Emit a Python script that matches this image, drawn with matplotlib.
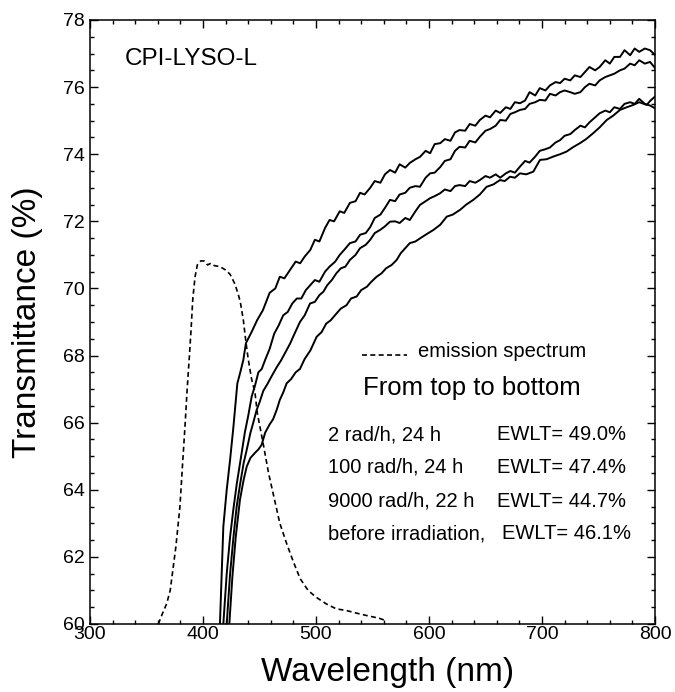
import matplotlib
matplotlib.use('Agg')
import matplotlib.pyplot as plt
from matplotlib.ticker import MultipleLocator

plt.rcParams['font.family'] = ['Liberation Sans', 'DejaVu Sans']

# transmittance curves (wavelength nm, transmittance %)
wl_2rad = [415, 418, 421, 424, 427, 430.4, 433, 435.7, 438, 443, 448, 453, 459, 464, 468, 472, 477,
           482, 486, 490, 495, 499, 503, 508, 512, 516, 521, 525, 530, 535, 539, 543, 548, 552, 557,
           561, 565.5, 570, 574, 579, 583, 588, 592, 597, 601, 605, 610, 614, 619, 623, 627, 632, 636,
           641, 645, 650, 654, 659, 663, 668, 672, 676, 680.5, 685, 689, 694, 698, 703, 707, 712, 716,
           720, 725, 729, 734, 738, 742, 747, 751, 756, 760, 764, 769, 773, 778, 782, 786, 791, 795.6, 800]
tr_2rad = [60, 62.9, 64.0, 64.9, 65.9, 67.17, 67.5, 67.87, 68.37, 68.7, 69.06, 69.35, 69.87, 70.0,
           70.35, 70.3, 70.55, 70.8, 70.75, 70.95, 71.15, 71.45, 71.4, 71.8, 72.04, 72.0, 72.3, 72.25,
           72.55, 72.6, 72.85, 72.8, 73.0, 73.2, 73.15, 73.4, 73.53, 73.45, 73.7, 73.6, 73.74, 73.85,
           73.92, 74.1, 74.03, 74.3, 74.33, 74.45, 74.4, 74.65, 74.72, 74.7, 74.9, 74.85, 75.02, 75.15,
           75.1, 75.3, 75.23, 75.4, 75.35, 75.55, 75.52, 75.6, 75.85, 75.75, 75.97, 75.9, 76.05, 76.15,
           76.12, 76.25, 76.2, 76.35, 76.3, 76.45, 76.6, 76.5, 76.6, 76.8, 76.7, 76.9, 76.9, 77.1, 76.95,
           77.15, 77.05, 77.15, 77.1, 76.96]

wl_100rad = [418, 421, 424, 426.8, 430, 434.2, 437, 440, 443.1, 446, 449, 452, 455, 459, 463, 467, 471,
             475, 479, 483, 487, 491, 495, 499, 503, 508, 512, 517, 521, 525, 530, 535, 539, 544, 548,
             552, 557, 561, 565.5, 570, 574, 579, 583, 588, 592, 597, 601, 605, 610, 614, 619, 623, 627,
             632, 636, 641, 645, 650, 654, 659, 663, 668, 672, 676, 680.5, 685, 689, 694, 698, 703, 707,
             712, 716, 720, 725, 729, 734, 738, 742, 747, 751, 756, 760, 764, 769, 773, 778, 782, 786,
             791, 795.6, 800]
tr_100rad = [60, 61.5, 62.6, 63.4, 64.2, 65.09, 65.7, 66.2, 66.78, 67.1, 67.5, 67.6, 67.87, 68.2, 68.65,
             68.9, 69.2, 69.3, 69.55, 69.7, 69.7, 69.95, 70.1, 70.25, 70.2, 70.5, 70.65, 70.8, 71.0,
             71.15, 71.35, 71.4, 71.6, 71.65, 71.83, 72.1, 72.2, 72.4, 72.64, 72.6, 72.8, 72.85, 73.0,
             73.05, 73.03, 73.3, 73.43, 73.45, 73.62, 73.8, 73.85, 74.1, 74.22, 74.2, 74.4, 74.35, 74.52,
             74.7, 74.75, 74.85, 75.02, 75.0, 75.2, 75.25, 75.32, 75.35, 75.5, 75.55, 75.62, 75.6, 75.8,
             75.75, 75.85, 75.9, 75.85, 75.8, 75.85, 76.0, 76.1, 76.05, 76.2, 76.3, 76.35, 76.4, 76.5,
             76.55, 76.7, 76.65, 76.8, 76.7, 76.75, 76.57]

wl_9000rad = [421, 424, 427, 429.8, 433, 436, 438.7, 442, 444.5, 447.5, 450, 453.4, 457, 461, 465.2, 469,
              473, 477, 481, 485.8, 490, 494.7, 499, 503, 506.5, 510, 514, 518, 522, 526, 530, 535, 539,
              544, 548, 552, 557, 561, 565.5, 570, 574, 579, 583, 588, 592, 597, 601, 605, 610, 614, 619,
              623, 627, 632, 636, 641, 645, 650, 654, 659, 663, 668, 672, 676, 680.5, 685, 689, 694, 698,
              703, 707, 712, 716, 720, 725, 729, 734, 738, 742, 747, 751, 756, 760, 764, 769, 773, 778,
              782, 786, 791, 795.6, 800]
tr_9000rad = [60, 61.5, 62.6, 63.5, 64.2, 64.8, 65.19, 65.7, 66.0, 66.38, 66.6, 66.95, 67.15, 67.4, 67.65,
              67.85, 68.1, 68.35, 68.65, 69.0, 69.2, 69.55, 69.6, 69.8, 69.9, 70.1, 70.25, 70.45, 70.6,
              70.65, 70.85, 71.0, 71.2, 71.3, 71.45, 71.65, 71.75, 71.85, 71.99, 72.0, 71.95, 72.1, 72.04,
              72.3, 72.49, 72.6, 72.69, 72.75, 72.84, 72.95, 72.9, 73.05, 73.08, 73.05, 73.2, 73.15, 73.23,
              73.35, 73.3, 73.4, 73.3, 73.43, 73.5, 73.45, 73.63, 73.8, 73.75, 73.93, 74.1, 74.15, 74.2,
              74.35, 74.42, 74.55, 74.6, 74.72, 74.85, 74.8, 74.95, 75.1, 75.22, 75.3, 75.25, 75.4, 75.35,
              75.5, 75.55, 75.5, 75.65, 75.5, 75.45, 75.37]

wl_before = [423.3, 426, 429, 432.7, 436, 438.7, 442, 446, 449, 451.9, 455, 459, 462, 465.2, 468, 471, 474,
             478, 482, 485.8, 490, 495, 500.6, 505, 509, 513, 518.3, 522, 527, 531, 536, 540, 545, 549,
             553.7, 558, 562, 567, 571.4, 575, 579, 583, 588, 592, 597, 603.8, 610, 615.7, 621, 627.4, 633,
             639.2, 645, 651, 657, 662.8, 667, 671.7, 676, 680.5, 686, 692.3, 698.2, 704, 710, 716, 721.8,
             727, 733.6, 739, 745.4, 751, 757.3, 763, 769, 775, 780.8, 786, 792.6, 796, 800]
tr_before = [60, 61.4, 62.6, 63.7, 64.3, 64.69, 64.95, 65.1, 65.2, 65.34, 65.7, 65.95, 66.1, 66.38, 66.68,
             66.9, 67.17, 67.3, 67.5, 67.6, 67.9, 68.15, 68.56, 68.7, 68.95, 69.05, 69.26, 69.4, 69.5, 69.7,
             69.76, 69.95, 70.05, 70.2, 70.35, 70.45, 70.6, 70.7, 70.85, 71.05, 71.2, 71.35, 71.4, 71.49,
             71.6, 71.74, 71.9, 72.14, 72.2, 72.34, 72.5, 72.64, 72.8, 73.03, 73.1, 73.23, 73.2, 73.33,
             73.3, 73.43, 73.4, 73.48, 73.83, 73.85, 73.93, 74.0, 74.08, 74.2, 74.33, 74.45, 74.63, 74.8,
             75.02, 75.15, 75.32, 75.4, 75.47, 75.55, 75.47, 75.6, 75.72]

# emission spectrum (arbitrary scale, drawn in the same frame)
wl_em = [360.5, 364, 367.8, 371, 376, 379.6, 382, 384.1, 386, 388, 389.5, 391, 393, 395, 398, 401, 404,
         407, 410, 415, 420, 424, 428, 431, 433, 435.7, 438, 440, 443, 446, 448, 453.4, 458, 463, 468,
         474, 480, 486, 493, 500, 509, 518, 527, 535, 545, 556, 560]
em = [60.0, 60.3, 60.6, 61.0, 62.3, 63.5, 64.8, 65.9, 67.0, 68.0, 68.8, 69.7, 70.35, 70.7, 70.82, 70.82,
      70.7, 70.75, 70.68, 70.65, 70.55, 70.42, 70.15, 69.85, 69.6, 69.06, 68.4, 67.9, 67.3, 66.9, 66.3,
      65.35, 64.5, 63.75, 63.0, 62.4, 61.85, 61.35, 61.0, 60.8, 60.6, 60.45, 60.4, 60.33, 60.25, 60.17, 60.12]

labels = ['2 rad/h, 24 h', '100 rad/h, 24 h', '9000 rad/h, 22 h', 'before irradiation,']
ewlt = ['EWLT= 49.0%', 'EWLT= 47.4%', 'EWLT= 44.7%', 'EWLT= 46.1%']

fig = plt.figure(figsize=(6.75, 6.92), dpi=100)
ax = fig.add_axes([0.1333, 0.0983, 0.8371, 0.8728])

for wl, tr in [(wl_2rad, tr_2rad), (wl_100rad, tr_100rad), (wl_9000rad, tr_9000rad), (wl_before, tr_before)]:
    ax.plot(wl, tr, color='black', lw=1.4)
ax.plot(wl_em, em, color='black', lw=1.2, dashes=(3, 2))

ax.set_xlim(300, 800)
ax.set_ylim(60, 78)
ax.xaxis.set_major_locator(MultipleLocator(100))
ax.xaxis.set_minor_locator(MultipleLocator(20))
ax.yaxis.set_major_locator(MultipleLocator(2))
ax.yaxis.set_minor_locator(MultipleLocator(0.5))
ax.tick_params(which='both', direction='in', top=True, right=True, width=1.0, labelsize=14)
ax.tick_params(which='major', length=6)
ax.tick_params(which='minor', length=3)
ax.tick_params(axis='x', pad=1.5)
ax.tick_params(axis='y', pad=4)
for s in ax.spines.values():
    s.set_linewidth(1.1)

ax.set_xlabel('Wavelength (nm)', fontsize=24)
ax.xaxis.set_label_coords(0.527, -0.055)
ax.xaxis.label.set_va('top')
ax.set_ylabel('Transmittance (%)', fontsize=24)
ax.yaxis.set_label_coords(-0.11, 0.5)
ax.yaxis.label.set_va('center')

ax.text(0.062, 0.9255, 'CPI-LYSO-L', transform=ax.transAxes, fontsize=17.5, va='baseline')

# legend for emission spectrum
ax.plot([0.481, 0.561], [0.445, 0.445], transform=ax.transAxes, color='black', lw=1.2, dashes=(3, 2))
ax.text(0.5805, 0.442, 'emission spectrum', transform=ax.transAxes, fontsize=14.5, va='baseline')
ax.text(0.483, 0.379, 'From top to bottom', transform=ax.transAxes, fontsize=18.5, va='baseline')

ys = [0.3046, 0.2500, 0.1945, 0.1399]
for i in range(4):
    ax.text(0.421, ys[i], labels[i], transform=ax.transAxes, fontsize=14.5, va='baseline')
    ax.text(0.729 if i == 3 else 0.720, ys[i], ewlt[i], transform=ax.transAxes, fontsize=14.5, va='baseline')

fig.savefig('out.png', dpi=100)
